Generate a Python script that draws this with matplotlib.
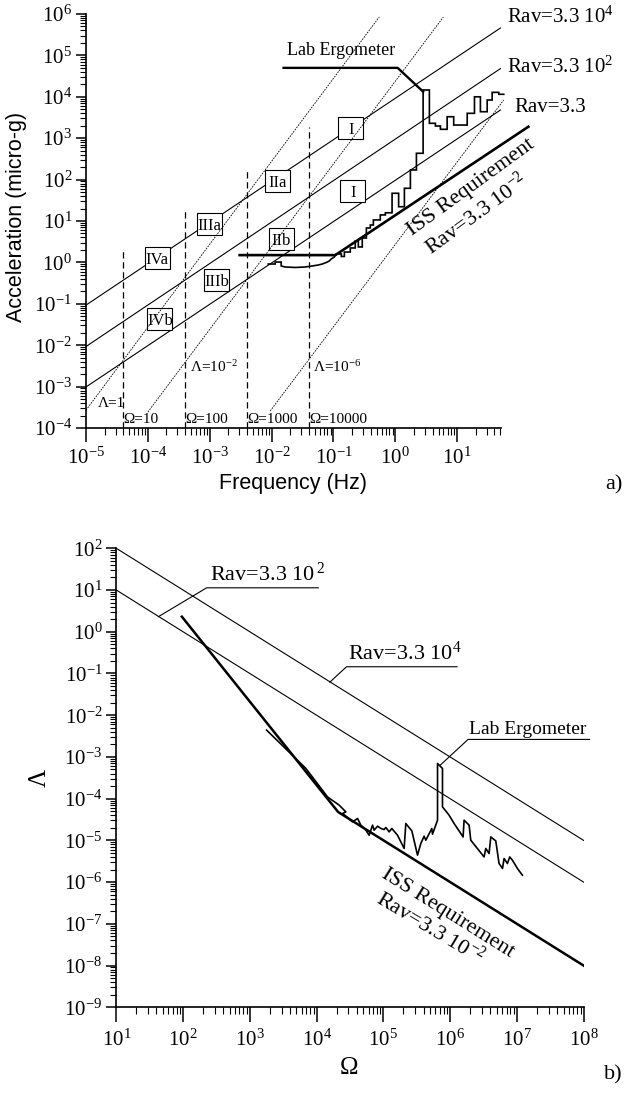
import numpy as np
import matplotlib
matplotlib.use('Agg')
import matplotlib.pyplot as plt
from matplotlib.ticker import LogLocator, FuncFormatter, NullFormatter
from matplotlib.patches import Rectangle
from matplotlib.transforms import ScaledTranslation

plt.rcParams['font.family'] = ['Liberation Serif', 'DejaVu Serif']
plt.rcParams['mathtext.fontset'] = 'custom'
plt.rcParams['mathtext.rm'] = 'Liberation Serif'
plt.rcParams['mathtext.it'] = 'Liberation Serif:italic'
plt.rcParams['mathtext.bf'] = 'Liberation Serif:bold'
plt.rcParams['mathtext.sf'] = 'Liberation Sans'

# ---------------- panel a) data ----------------
rav_f = [1e-5, 50.0]
rav_A_33e4 = [0.093, 4.6e5]
rav_A_33e2 = [0.0093, 4.8e4]
rav_A_33 = [9.8e-4, 4.8e3]

lam1_f = [1e-5, 0.55]
lam1_A = [2.7e-4, 8.5e5]
lam2_f = [1.0e-4, 5.98]
lam2_A = [2.43e-4, 8.5e5]
lam6_f = [9.5e-3, 56.5]
lam6_A = [2.58e-4, 8.4e3]

omega_f = [4e-5, 4e-4, 4e-3, 4e-2]
omega_top = [2.2, 17, 165, 1900]
omega_labels = ['Ω=10', 'Ω=100', 'Ω=1000', 'Ω=10000']

iss_f = [0.0029, 0.107, 147]
iss_A = [1.5, 1.5, 1970]

ergo_top_f = [0.0156, 1.09, 2.81]
ergo_top_A = [5.0e4, 5.0e4, 1.33e4]

ergo_low_f = [0.00881, 0.01143, 0.01143, 0.01429, 0.01429, 0.0166, 0.0241, 0.0350,
              0.0454, 0.0568, 0.0659, 0.0764, 0.0855, 0.092, 0.103, 0.111]
ergo_low_A = [0.914, 0.914, 1.02, 1.02, 0.82, 0.775, 0.754, 0.775,
              0.82, 0.865, 0.914, 0.995, 1.08, 1.21, 1.35, 1.60]
ergo_step_f = [0.111, 0.134, 0.150, 0.187, 0.225, 0.252, 0.292, 0.340, 0.394, 0.441,
               0.571, 0.689, 0.885, 1.13, 1.40, 1.75, 2.19, 2.81, 3.55, 4.44,
               5.35, 6.87, 8.77, 14.5, 19.0, 23.7, 30.5, 36.7, 47.0, 56.5]
ergo_step_A = [1.60, 1.39, 1.78, 2.23, 3.29, 2.36, 3.88, 6.78, 8.0, 10.6,
               14.0, 15.8, 46.7, 22.1, 61.7, 171, 432, 14600, 2290, 1970,
               1640, 3300, 2080, 3990, 10000, 4360, 8370, 12800, 11500]

box_labels = ['IVa', 'IIIa', 'IIa', 'I', 'IVb', 'IIIb', 'IIb', 'I']
box_f = [1.41e-4, 9.96e-4, 0.0123, 0.19, 1.57e-4, 1.29e-3, 0.0143, 0.205]
box_A = [1.28, 8.7, 95, 1760, 0.044, 0.386, 3.67, 51.6]

# ---------------- panel b) data ----------------
b_rav_O = [10, 1e8]
b_rav_L_33e4 = [100, 1e-5]
b_rav_L_33e2 = [10, 1e-6]
b_iss_O = [96, 2.1e4, 1e8]
b_iss_L = [2.3, 4.8e-5, 1e-8]
b_ergo_O = [1783, 6916, 14610, 21820, 27470, 24500, 34590, 41110, 46040, 54710,
            61350, 68980, 72820, 81870, 91810, 102800, 109100, 122200, 133900, 163200,
            205000, 217200, 267300, 325100, 364400, 408400, 432600, 532200, 545300, 648500,
            648500, 769400, 769400, 966400, 1.148e6, 1.566e6, 1.621e6, 1.926e6, 2.042e6, 3.228e6,
            3.427e6, 3.836e6, 4.073e6, 4.834e6, 5.416e6, 6.095e6, 6.440e6, 7.226e6, 7.830e6, 8.588e6,
            1.021e7, 1.213e7]
b_ergo_L = [4.4e-3, 5.3e-4, 1.10e-4, 6.98e-5, 4.82e-5, 4.42e-5, 2.78e-5, 3.35e-5, 2.32e-5, 1.76e-5,
            1.33e-5, 2.32e-5, 1.76e-5, 2.19e-5, 1.93e-5, 1.82e-5, 2.04e-5, 1.60e-5, 1.93e-5, 1.33e-5,
            6.40e-6, 2.54e-5, 1.69e-5, 4.42e-6, 8.43e-6, 1.26e-5, 1.01e-5, 1.93e-5, 1.41e-5, 3.05e-5,
            6.98e-4, 5.30e-4, 6.36e-5, 4.02e-5, 2.54e-5, 1.21e-5, 3.05e-5, 2.32e-5, 1.01e-5, 4.02e-6,
            6.40e-6, 4.85e-6, 1.21e-5, 9.73e-6, 2.79e-6, 2.12e-6, 3.68e-6, 2.79e-6, 4.02e-6, 3.35e-6,
            2.12e-6, 1.46e-6]

W, H = 635, 1095
fig = plt.figure(figsize=(W / 100, H / 100), dpi=100)

ax1 = fig.add_axes([86 / W, 1 - 428 / H, 415 / W, 414 / H])
ax2 = fig.add_axes([116.3 / W, 1 - 1007.3 / H, 467.3 / W, 459 / H])


def dec_fmt(v, p):
    return r'$10^{%d}$' % int(round(np.log10(v)))


def style_axis(ax):
    ax.set_xscale('log')
    ax.set_yscale('log')
    for s in ['top', 'right']:
        ax.spines[s].set_visible(False)
    for s in ['left', 'bottom']:
        ax.spines[s].set_linewidth(1.2)
    ax.xaxis.set_major_locator(LogLocator(base=10, numticks=30))
    ax.yaxis.set_major_locator(LogLocator(base=10, numticks=30))
    ax.xaxis.set_minor_locator(LogLocator(base=10, subs=np.arange(2, 10), numticks=300))
    ax.yaxis.set_minor_locator(LogLocator(base=10, subs=np.arange(2, 10), numticks=300))
    ax.xaxis.set_major_formatter(FuncFormatter(dec_fmt))
    ax.yaxis.set_major_formatter(FuncFormatter(dec_fmt))
    ax.xaxis.set_minor_formatter(NullFormatter())
    ax.yaxis.set_minor_formatter(NullFormatter())
    ax.tick_params(axis='x', which='major', length=10, width=1.1, pad=4, labelsize=15)
    ax.tick_params(axis='x', which='minor', length=5, width=0.8)
    ax.tick_params(axis='y', which='major', length=7, width=1.1, pad=3, labelsize=15)
    ax.tick_params(axis='y', which='minor', length=4.5, width=0.8)
    ax.patch.set_alpha(0)


# ---------------- panel a ----------------
ax = ax1
style_axis(ax)
ax.set_xlim(1e-5, 51)
ax.set_ylim(1e-4, 1e6)

for A in (rav_A_33e4, rav_A_33e2, rav_A_33):
    ax.plot(rav_f, A, color='black', lw=0.8, zorder=2, clip_on=False)

for fx, ft in zip(omega_f, omega_top):
    ax.plot([fx, fx], [1e-4, ft], color='black', lw=0.9, ls=(0, (5, 3)), zorder=2)

for ff, aa in ((lam1_f, lam1_A), (lam2_f, lam2_A), (lam6_f, lam6_A)):
    ax.plot(ff, aa, color='black', lw=0.6, ls=(0, (2, 1.3)), zorder=5, clip_on=False)

# boxes
for lab, bf, ba in zip(box_labels, box_f, box_A):
    tr = fig.dpi_scale_trans + ScaledTranslation(bf, ba, ax.transData)
    w, h = 0.25, 0.22
    ax.add_patch(Rectangle((-w / 2, -h / 2), w, h, transform=tr, fc='white', ec='black',
                           lw=0.8, zorder=3, clip_on=False))
    ax.text(bf, ba, lab, ha='center', va='center_baseline', fontsize=12, zorder=4)

ax.plot(iss_f, iss_A, color='black', lw=1.9, zorder=6, clip_on=False, solid_capstyle='butt')
ax.plot(ergo_top_f, ergo_top_A, color='black', lw=1.7, zorder=6, clip_on=False)

sx, sy = [], []
for i, lv in enumerate(ergo_step_A):
    sx += [ergo_step_f[i], ergo_step_f[i + 1]]
    sy += [lv, lv]
ex = list(ergo_low_f) + sx
ey = list(ergo_low_A) + sy
ax.plot(ex, ey, color='black', lw=1.2, zorder=6, clip_on=False, solid_joinstyle='miter')

# texts panel a
ax.text(0.134, 1.35e5, 'Lab Ergometer', ha='center', va='center', fontsize=13)
ax.text(64.9, 8.5e5, r'Rav=3.3 10$^{4}$', ha='left', va='center', fontsize=15, clip_on=False)
ax.text(64.9, 5.25e4, r'Rav=3.3 10$^{2}$', ha='left', va='center', fontsize=15, clip_on=False)
ax.text(84.3, 5.4e3, 'Rav=3.3', ha='left', va='center', fontsize=15, clip_on=False)
ax.text(17, 62.7, 'ISS Requirement', ha='center', va='center', fontsize=16,
        rotation=36, rotation_mode='anchor', clip_on=False)
ax.text(20.5, 14.8, r'Rav=3.3 10$^{-2}$', ha='center', va='center', fontsize=16,
        rotation=36, rotation_mode='anchor', clip_on=False)
for fx, lab in zip(omega_f, omega_labels):
    ax.text(fx, 1.6e-4, lab, ha='left', va='center', fontsize=11)
ax.text(1.56e-5, 4.0e-4, 'Λ=1', ha='left', va='center', fontsize=11)
ax.text(4.8e-4, 3.0e-3, r'Λ=10$^{-2}$', ha='left', va='center', fontsize=11)
ax.text(0.0466, 3.0e-3, r'Λ=10$^{-6}$', ha='left', va='center', fontsize=11)

fig.text(17 / W, 1 - 217 / H, 'Acceleration (micro-g)', rotation=90, ha='center', va='center',
         fontsize=15.5, family='Liberation Sans')
fig.text(293 / W, 1 - 484 / H, 'Frequency (Hz)', ha='center', va='center',
         fontsize=15.5, family='Liberation Sans')
fig.text(614 / W, 1 - 485 / H, 'a)', ha='center', va='center', fontsize=16)

# ---------------- panel b ----------------
ax = ax2
style_axis(ax)
ax.tick_params(axis='x', which='major', length=11, pad=5)
ax.set_xlim(10, 1e8)
ax.set_ylim(1e-9, 1e2)

ax.plot(b_rav_O, b_rav_L_33e4, color='black', lw=0.8, zorder=2)
ax.plot(b_rav_O, b_rav_L_33e2, color='black', lw=0.8, zorder=2)
ax.plot(b_iss_O, b_iss_L, color='black', lw=1.8, zorder=5)
ax.plot(b_ergo_O, b_ergo_L, color='black', lw=1.2, zorder=6, clip_on=False)

# label leaders
ax.plot([42.6, 225.6, 1.06e4], [2.29, 11.3, 11.3], color='black', lw=0.8, clip_on=False)
ax.text(253, 12.5, r'Rav=3.3 10$^{\,2}$', ha='left', va='bottom', fontsize=16)
ax.plot([1.58e4, 2.81e4, 1.27e6], [0.062, 0.145, 0.145], color='black', lw=0.8, clip_on=False)
ax.text(2.95e4, 0.16, r'Rav=3.3 10$^{4}$', ha='left', va='bottom', fontsize=16)
ax.plot([7.0e5, 1.86e6, 1.23e8], [6.2e-4, 2.63e-3, 2.63e-3], color='black', lw=0.8, clip_on=False)
ax.text(1.95e6, 2.9e-3, 'Lab Ergometer', ha='left', va='bottom', fontsize=14, clip_on=False)
ax.text(9.25e5, 1.8e-7, 'ISS Requirement', ha='center', va='center', fontsize=16,
        rotation=-32, rotation_mode='anchor')
ax.text(4.97e5, 7.8e-8, r'Rav=3.3 10$^{-2}$', ha='center', va='center', fontsize=16,
        rotation=-31, rotation_mode='anchor')

fig.text(349 / W, 1 - 1068 / H, 'Ω', ha='center', va='center', fontsize=18)
fig.text(40 / W, 1 - 778 / H, 'Λ', rotation=90, ha='center', va='center', fontsize=18)
fig.text(613 / W, 1 - 1075 / H, 'b)', ha='center', va='center', fontsize=16)

fig.savefig('out.png', dpi=100, facecolor='white')
